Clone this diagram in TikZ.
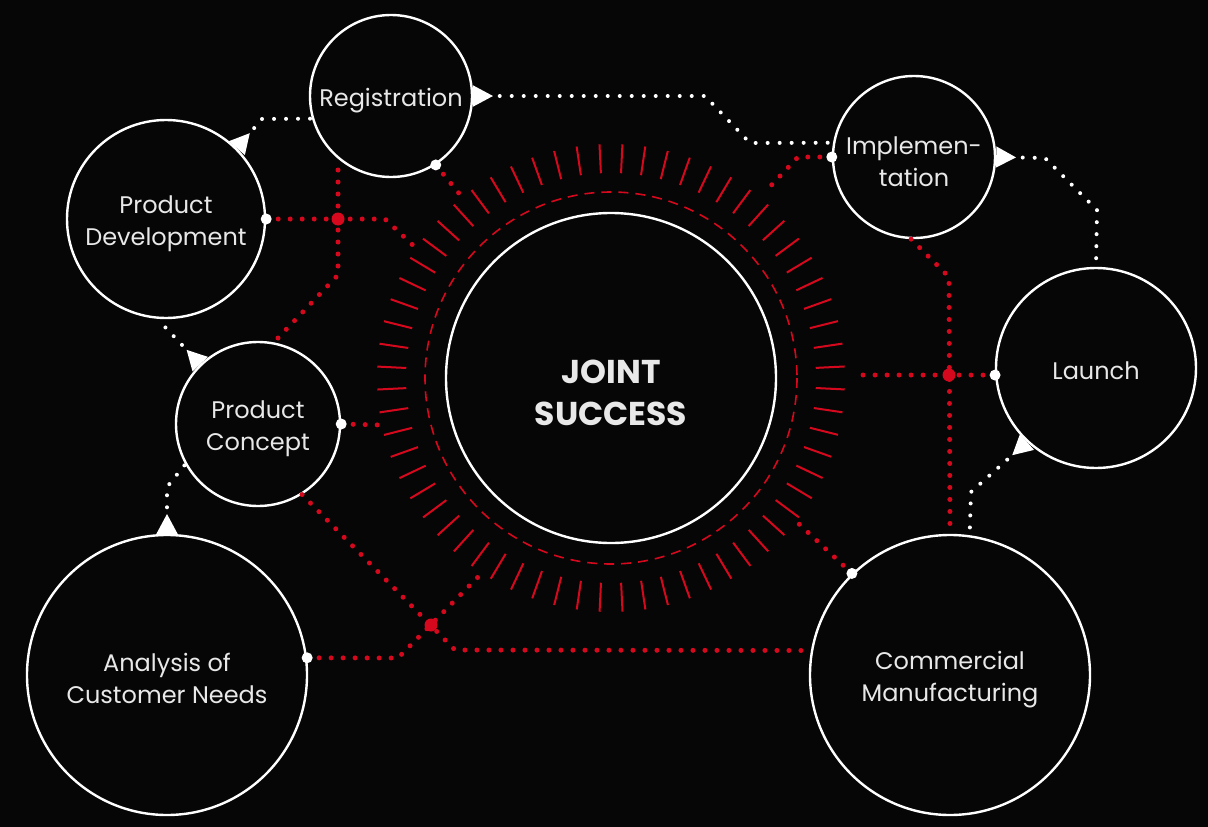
\documentclass[tikz,border=0pt]{standalone}
\usepackage{fontspec}
\setmainfont{Poppins}
\usetikzlibrary{arrows.meta}
\definecolor{bg}{RGB}{6,6,6}
\definecolor{accent}{RGB}{214,8,30}
\definecolor{ink}{RGB}{232,232,232}

\begin{document}
\begin{tikzpicture}[x=1pt,y=-1pt,
    stage/.style={circle, draw=white, line width=2.4pt, fill=bg, inner sep=0pt},
    caption/.style={text=ink, align=center, inner sep=0pt, yshift=-5pt, font=\fontsize{24}{32}\selectfont},
    flow/.style={white, line width=4pt, line cap=round, dash pattern=on 0pt off 12pt, {Triangle[reversed,length=20pt,width=20pt]}-},
    link/.style={accent, line width=5pt, line cap=round, dash pattern=on 0pt off 12pt},
    knot/.style={circle, fill=accent, inner sep=0pt, minimum size=13pt},
    port/.style={circle, fill=white, inner sep=0pt, minimum size=11pt}]
    \fill[bg] (0,0) rectangle (1208,827);
    \useasboundingbox (0,0) rectangle (1208,827);

    \node[stage, minimum size=330] (js) at (611,378) {};
    \node[stage, minimum size=162] (reg) at (391,96) {};
    \node[stage, minimum size=198] (pd) at (166,219) {};
    \node[stage, minimum size=164] (pc) at (258,424) {};
    \node[stage, minimum size=280] (an) at (167,675) {};
    \node[stage, minimum size=162] (impl) at (914,157) {};
    \node[stage, minimum size=200] (launch) at (1096,368) {};
    \node[stage, minimum size=280] (cm) at (950,675) {};

    \node[caption, yshift=-10pt, font=\fontsize{33}{42}\selectfont\bfseries] (js-t) at (js) {JOINT\\SUCCESS};
    \node[caption] (reg-t) at (reg) {Registration};
    \node[caption] (pd-t) at (pd) {Product\\Development};
    \node[caption] (pc-t) at (pc) {Product\\Concept};
    \node[caption, yshift=2pt] (an-t) at (an) {Analysis of\\Customer Needs};
    \node[caption] (impl-t) at (impl) {Implemen-\\tation};
    \node[caption, yshift=2pt] (launch-t) at (launch) {Launch};
    \node[caption] (cm-t) at (cm) {Commercial\\Manufacturing};

    \draw[accent, line width=1.6pt, dash pattern=on 10pt off 7pt] (js) circle[radius=186];
    \foreach \a in {0,...,63}
        \draw[accent, line width=2pt, shift={(js.center)}] ({\a*5.625+2.8}:205) -- ({\a*5.625+2.8}:234);

    \coordinate (r1) at (462,197);
    \coordinate (r2) at (417,249);
    \coordinate (r3) at (381,425);
    \coordinate (r4) at (480,575);
    \coordinate (r5) at (798,523);
    \coordinate (r6) at (764,193);
    \coordinate (r7) at (856,375);
    \coordinate (t1) at (338,170);

    \draw[link] (reg.303) -- (r1);
    \draw[link] (pd.east) -- (385,219) -- (r2);
    \draw[link] (t1) -- (338,275) -- (pc.79);
    \draw[link] (pc.east) -- (r3);
    \draw[link] (an.7) -- (398,658) -- (r4);
    \draw[link] (pc.302) -- (455,650) -- (cm.170);
    \draw[link] (cm.134) -- (r5);
    \draw[link] (impl.west) -- (798,157) -- (r6);
    \draw[link] (impl.268) -- (949,277) -- (cm.north);
    \draw[link] (launch.184) -- (r7);

    \draw[flow] (pd.45) -- (262,119) -- (reg.196);
    \draw[flow] (reg.east) -- (705,96) -- (750,143) -- (impl.170);
    \draw[flow] (impl.east) -- (1045,158) -- (1097,210) -- (launch.north);
    \draw[flow] (launch.227) -- (971,492) -- (cm.82);
    \draw[flow] (an.north) -- (167,487) -- (pc.209);
    \draw[flow] (pc.134) -- (pd.265);

    \node[knot] (k1) at (338,219) {};
    \node[knot] (k2) at (431,625) {};
    \node[knot] (k3) at (949,375) {};
    \node[port] (p1) at (reg.303) {};
    \node[port] (p2) at (pd.east) {};
    \node[port] (p3) at (pc.east) {};
    \node[port] (p4) at (an.7) {};
    \node[port] (p5) at (cm.134) {};
    \node[port] (p6) at (impl.west) {};
    \node[port] (p7) at (launch.184) {};
\end{tikzpicture}
\end{document}
